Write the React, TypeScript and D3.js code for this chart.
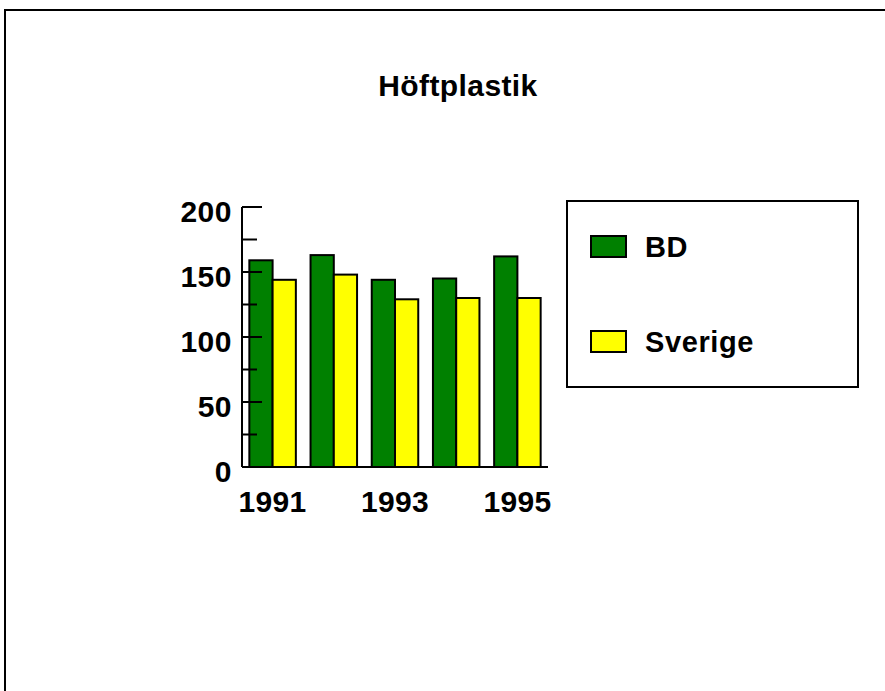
import React, { useEffect, useRef } from 'react';
import * as d3 from 'd3';

const years = ['1991', '1992', '1993', '1994', '1995'];
const seriesNames = ['BD', 'Sverige'];
const bdValues = [159, 163, 144, 145, 162];
const sverigeValues = [144, 148, 129, 130, 130];
const yTicks = [0, 50, 100, 150, 200];
const yMinorTicks = [25, 75, 125, 175];
const xTickLabels = ['1991', '1993', '1995'];
const colors = ['#008000', '#ffff00'];

export default function App() {
  const ref = useRef<SVGSVGElement | null>(null);

  useEffect(() => {
    const svg = d3.select(ref.current);
    svg.selectAll('*').remove();

    const font = 'Arial, "Liberation Sans", Helvetica, sans-serif';

    // outer frame, runs off the right and bottom edges
    svg.append('rect')
      .attr('x', 5).attr('y', 10)
      .attr('width', 900).attr('height', 700)
      .attr('fill', 'white')
      .attr('stroke', 'black')
      .attr('stroke-width', 2);

    svg.append('text')
      .attr('x', 458).attr('y', 96)
      .attr('text-anchor', 'middle')
      .attr('font-family', font)
      .attr('font-weight', 'bold')
      .attr('font-size', 30)
      .attr('letter-spacing', 0.4)
      .text('Höftplastik');

    const left = 242, right = 548, top = 207, bottom = 467;

    const x = d3.scaleBand<string>()
      .domain(years)
      .range([left, right])
      .paddingInner(0.24)
      .paddingOuter(0.12);

    const x1 = d3.scaleBand<string>()
      .domain(seriesNames)
      .range([0, x.bandwidth()]);

    const y = d3.scaleLinear().domain([0, 200]).range([bottom, top]);

    const rows = years.map((yr, i) => ({ year: yr, values: [bdValues[i], sverigeValues[i]] }));

    const groups = svg.append('g')
      .selectAll('g')
      .data(rows)
      .join('g')
      .attr('transform', d => `translate(${x(d.year)},0)`);

    groups.selectAll('rect')
      .data(d => d.values.map((v, k) => ({ key: seriesNames[k], value: v, k })))
      .join('rect')
      .attr('x', d => x1(d.key) as number)
      .attr('y', d => y(d.value))
      .attr('width', x1.bandwidth())
      .attr('height', d => y(0) - y(d.value))
      .attr('fill', d => colors[d.k])
      .attr('stroke', 'black')
      .attr('stroke-width', 2);

    // y axis line and inward ticks
    svg.append('line')
      .attr('x1', left).attr('x2', left)
      .attr('y1', top).attr('y2', bottom)
      .attr('stroke', 'black').attr('stroke-width', 2);

    svg.selectAll('.ymajor')
      .data(yTicks)
      .join('line')
      .attr('x1', left).attr('x2', left + 20)
      .attr('y1', d => y(d)).attr('y2', d => y(d))
      .attr('stroke', 'black').attr('stroke-width', 2);

    svg.selectAll('.yminor')
      .data(yMinorTicks)
      .join('line')
      .attr('x1', left).attr('x2', left + 15)
      .attr('y1', d => y(d)).attr('y2', d => y(d))
      .attr('stroke', 'black').attr('stroke-width', 2);

    svg.append('g')
      .selectAll('text')
      .data(yTicks)
      .join('text')
      .attr('x', 232)
      .attr('y', d => y(d) + 15)
      .attr('text-anchor', 'end')
      .attr('font-family', font)
      .attr('font-weight', 'bold')
      .attr('font-size', 30)
      .attr('letter-spacing', 0.5)
      .text(d => d);

    // x axis baseline
    svg.append('line')
      .attr('x1', left).attr('x2', right)
      .attr('y1', bottom).attr('y2', bottom)
      .attr('stroke', 'black').attr('stroke-width', 2);

    svg.append('g')
      .selectAll('text')
      .data(xTickLabels)
      .join('text')
      .attr('x', d => (x(d) as number) + x.bandwidth() / 2)
      .attr('y', 512)
      .attr('text-anchor', 'middle')
      .attr('font-family', font)
      .attr('font-weight', 'bold')
      .attr('font-size', 30)
      .attr('letter-spacing', 0.3)
      .text(d => d);

    // legend
    svg.append('rect')
      .attr('x', 567).attr('y', 201)
      .attr('width', 291).attr('height', 186)
      .attr('fill', 'white')
      .attr('stroke', 'black')
      .attr('stroke-width', 2);

    const legendY = d3.scalePoint<string>().domain(seriesNames).range([246, 341]);

    const items = svg.append('g')
      .selectAll('g')
      .data(seriesNames)
      .join('g')
      .attr('transform', d => `translate(0,${legendY(d)})`);

    items.append('rect')
      .attr('x', 591).attr('y', -10)
      .attr('width', 35).attr('height', 21)
      .attr('fill', (d, i) => colors[i])
      .attr('stroke', 'black')
      .attr('stroke-width', 2);

    items.append('text')
      .attr('x', 645).attr('y', 11)
      .attr('font-family', font)
      .attr('font-weight', 'bold')
      .attr('font-size', 29)
      .attr('letter-spacing', 0.6)
      .text(d => d);
  }, []);

  return (
    <svg ref={ref} width={885} height={691}
      style={{ position: 'absolute', left: 0, top: 0, background: 'white' }} />
  );
}
